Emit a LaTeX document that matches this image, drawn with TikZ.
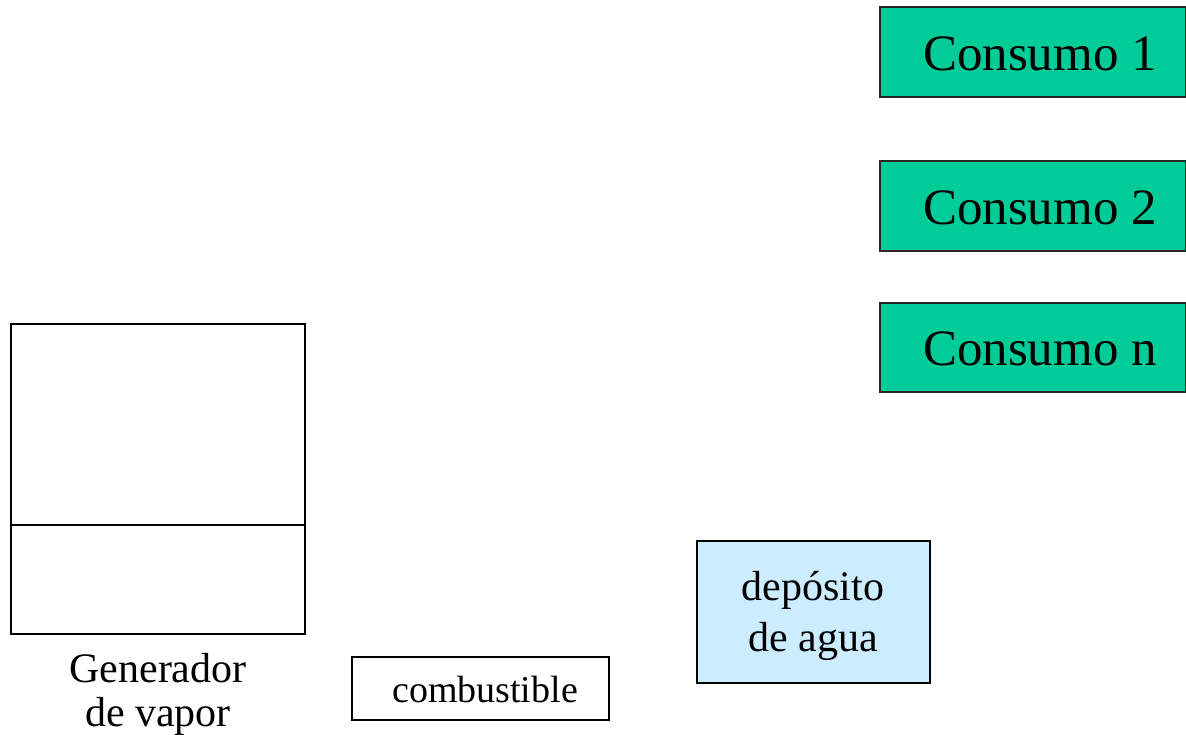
\documentclass[tikz,border=0pt]{standalone}
\usepackage{fontspec}
\setmainfont{Liberation Serif}
\definecolor{consumo}{RGB}{0,204,153}
\definecolor{agua}{RGB}{204,236,255}
\begin{document}
\begin{tikzpicture}[x=1pt,y=-1pt,
  consumobox/.style={draw=black!85,line width=1.5pt,fill=consumo},
  plainbox/.style={draw=black,line width=2pt},
  bigtxt/.style={font=\fontsize{51}{56}\selectfont},
  midtxt/.style={font=\fontsize{42}{46}\selectfont,align=center},
  smalltxt/.style={font=\fontsize{38}{42}\selectfont}]
\useasboundingbox (0,0) rectangle (1186,735);
% consumers
\draw[consumobox] (880,7) rectangle (1186,97);
\node[bigtxt] (c1) at (1040,54) {Consumo 1};
\draw[consumobox] (880,161) rectangle (1186,251);
\node[bigtxt] (c2) at (1040,208) {Consumo 2};
\draw[consumobox] (880,303) rectangle (1186,392);
\node[bigtxt] (cn) at (1040,349) {Consumo n};
% steam generator
\draw[plainbox] (11,324) rectangle (305,634);
\draw[plainbox] (11,525) -- (305,525);
\node[midtxt] (gen) at (158,694) {Generador\\[-2pt]de vapor};
% fuel
\draw[draw=black,line width=1.8pt] (352,657) rectangle (609,720);
\node[smalltxt] (comb) at (485,689) {combustible};
% water tank
\draw[draw=black,line width=1.5pt,fill=agua] (697,541) rectangle (930,683);
\node[midtxt] (dep) at (813,616) {depósito\\[5pt]de agua};
\end{tikzpicture}
\end{document}
